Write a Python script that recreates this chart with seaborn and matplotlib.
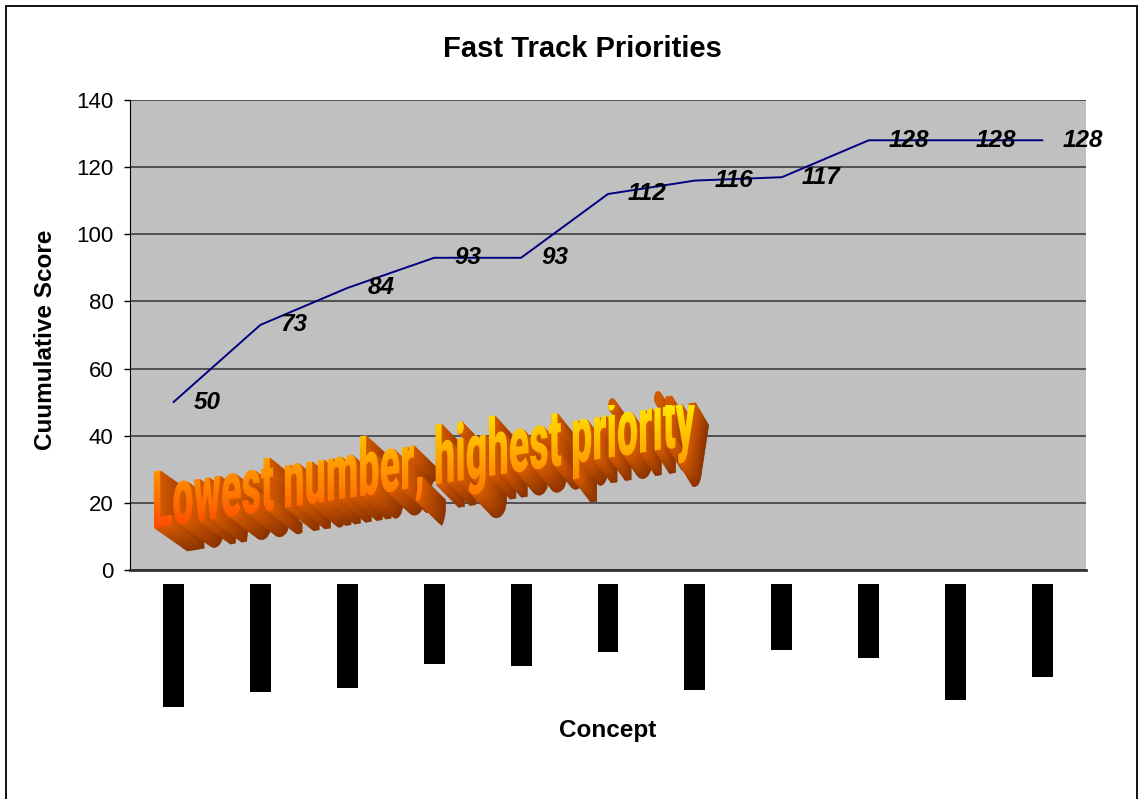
import numpy as np
import seaborn as sns
import matplotlib.pyplot as plt
import matplotlib.colors as mcolors
from matplotlib.textpath import TextPath
from matplotlib.font_manager import FontProperties
from matplotlib.patches import PathPatch
from matplotlib.path import Path
from matplotlib.lines import Line2D

# data
scores = [50, 73, 84, 93, 93, 112, 116, 117, 128, 128, 128]
# concept names are blacked out in the original; length of each black box (px)
redacted_len = [123, 108, 104, 80, 82, 68, 106, 66, 74, 116, 93]
yticks = [0, 20, 40, 60, 80, 100, 120, 140]
title = "Fast Track Priorities"
ylabel = "Cuumulative Score"
xlabel = "Concept"
wordart = "Lowest number, highest priority"

sns.set_style("white")
plt.rcParams['font.family'] = ['Liberation Sans', 'DejaVu Sans']
plt.rcParams.update({'text.color': 'black', 'axes.labelcolor': 'black',
                     'xtick.color': 'black', 'ytick.color': 'black'})

W, H = 1145, 799
fig = plt.figure(figsize=(W / 100, H / 100), dpi=100)


def px_axes(left, top, right, bottom):
    return fig.add_axes([left / W, 1 - bottom / H, (right - left) / W, (bottom - top) / H])


# main plot area
ax = px_axes(130, 100, 1086, 570)
ax.set_facecolor('#C0C0C0')
xs = np.arange(len(scores))
sns.lineplot(x=xs, y=scores, color='#000080', linewidth=1.4, ax=ax, zorder=3)
for x, y in zip(xs, scores):
    ax.annotate(str(y), (x, y), xytext=(20, 0), textcoords='offset pixels',
                ha='left', va='center', fontsize=17.5, fontweight='bold',
                fontstyle='italic', color='black', annotation_clip=False,
                clip_on=False, zorder=4)
ax.set_xlim(-0.5, len(scores) - 0.5)
ax.set_ylim(0, 140)
ax.set_yticks(yticks)
ax.set_xticks([])
ax.yaxis.grid(True, color='#333333', linewidth=1.1)
ax.set_axisbelow(True)
ax.tick_params(axis='y', labelsize=16, length=4, width=1, color='black', pad=8, left=True)
for s in ['top', 'right']:
    ax.spines[s].set_visible(False)
ax.spines['left'].set_color('black')
ax.spines['bottom'].set_color('#333333')
ax.spines['bottom'].set_linewidth(2)
ax.set_xlabel('')
ax.set_ylabel('')

# redacted category labels
axr = px_axes(130, 584, 1086, 714)
sns.barplot(x=xs, y=redacted_len, color='black', width=0.24, ax=axr,
            saturation=1, linewidth=0)
axr.set_xlim(-0.5, len(scores) - 0.5)
axr.set_ylim(130, 0)
axr.axis('off')

# texts
fig.text(582 / W, 1 - 49 / H, title, ha='center', va='center', fontsize=21, fontweight='bold')
fig.text(46 / W, 1 - 340 / H, ylabel, ha='center', va='center', rotation=90,
         fontsize=17.5, fontweight='bold')
fig.text(608 / W, 1 - 731 / H, xlabel, ha='center', va='center', fontsize=17.5, fontweight='bold')

# outer border
for (x0, y0, x1, y1) in [(6, 6, 6, 799), (6, 6, 1137, 6), (1137, 6, 1137, 799)]:
    fig.add_artist(Line2D([x0 / W, x1 / W], [1 - y0 / H, 1 - y1 / H],
                          transform=fig.transFigure, color='black', linewidth=1.3))

# word art overlay (pixel coordinates, y downward)
ov = fig.add_axes([0, 0, 1, 1])
ov.set_xlim(0, W)
ov.set_ylim(H, 0)
ov.axis('off')
ov.patch.set_alpha(0)

fp = FontProperties(family=['Roboto', 'Lato', 'DejaVu Sans'], weight=900)
tp = TextPath((0, 0), wordart, size=100, prop=fp)
v = tp.vertices.copy()
ext = tp.get_extents()
cap = TextPath((0, 0), "L", size=100, prop=fp).get_extents().height
sx = 548 / ext.width
sy = 56 / cap
v[:, 0] = (v[:, 0] - ext.x0) * sx
v[:, 1] = v[:, 1] * sy
v[:, 0] += 0.15 * v[:, 1]          # slight forward lean
v[:, 1] = -v[:, 1]                  # y downward
ang = np.deg2rad(-8.8)
rot = np.array([[np.cos(ang), -np.sin(ang)], [np.sin(ang), np.cos(ang)]])
v = v @ rot.T
v += np.array([154, 528])


def shifted(t):
    off_x = 33 - 20 * (v[:, 0] - 154) / 550
    vv = v.copy()
    vv[:, 0] += t * off_x
    vv[:, 1] += t * 23
    return Path(vv, tp.codes)


n = 30
for i, t in enumerate(np.linspace(1, 0.03, n)):
    shade = mcolors.to_hex(np.array(mcolors.to_rgb('#8C3300')) * (1 - i / n)
                           + np.array(mcolors.to_rgb('#D45A00')) * (i / n))
    ov.add_patch(PathPatch(shifted(t), facecolor=shade, edgecolor=shade,
                           linewidth=0.5, zorder=5))

front = PathPatch(Path(v, tp.codes), facecolor='none', edgecolor='none', zorder=6)
ov.add_patch(front)
cmap = mcolors.LinearSegmentedColormap.from_list('wa', ['#FFE800', '#FFB000', '#FF7A00', '#FF4000'])
grad = np.linspace(0, 1, 256).reshape(-1, 1)
im = ov.imshow(grad, cmap=cmap, extent=(140, 730, 535, 405), aspect='auto', zorder=6)
im.set_clip_path(front)
ov.set_xlim(0, W)
ov.set_ylim(H, 0)

fig.savefig('out.png', dpi=100)
